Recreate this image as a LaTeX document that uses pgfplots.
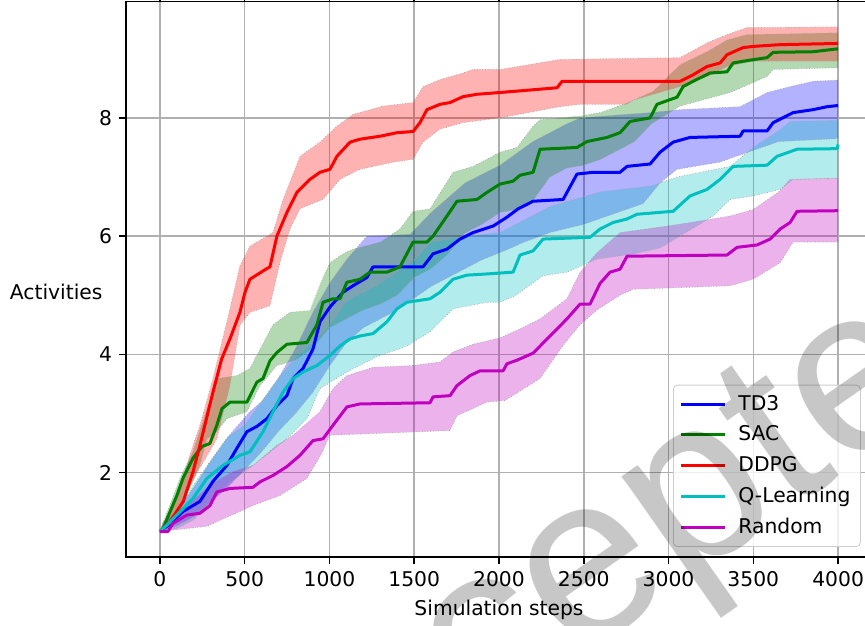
\documentclass[border=0pt]{standalone}
\usepackage{fontspec}
\setmainfont{DejaVu Sans}
\newfontfamily\wmfont{Liberation Sans}
\usepackage{pgfplots}
\pgfplotsset{compat=1.18}
\usepgfplotslibrary{fillbetween}
\definecolor{mb}{rgb}{0,0,1}
\definecolor{mg}{rgb}{0,0.5,0}
\definecolor{mr}{rgb}{1,0,0}
\definecolor{mc}{rgb}{0,0.75,0.75}
\definecolor{mm}{rgb}{0.75,0,0.75}
\definecolor{gridgray}{rgb}{0.69,0.69,0.69}
\pgfplotsset{
  bandedge/.style={draw=black!35, densely dotted, line width=0.35pt, forget plot},
  mainline/.style={line width=1.5pt, line join=round},
}
\begin{document}
\begin{tikzpicture}
\begin{axis}[
  scale only axis, width=373pt, height=277.75pt,
  xmin=-200, xmax=4200, ymin=0.57, ymax=9.97,
  xtick={0,500,...,4000}, ytick={2,4,6,8},
  grid=major, grid style={gridgray, line width=0.75pt},
  tick align=outside, major tick length=3.5pt,
  tick style={black, line width=0.75pt},
  axis line style={line width=0.75pt},
  /pgf/number format/assume math mode=true,
  /pgf/number format/1000 sep={},
  tick label style={font=\fontsize{10.15}{12}\selectfont},
  label style={font=\fontsize{10.15}{12}\selectfont},
  xlabel={Simulation steps},
  xlabel style={yshift=0pt},
  ylabel={Activities},
  ylabel style={rotate=-90, anchor=east, inner sep=0pt, at={(axis description cs:-0.031,0.477)}},
  legend cell align=left,
  legend style={at={(axis description cs:0.985,0.018)}, anchor=south east,
    draw=black!20, rounded corners=2pt, fill=white, fill opacity=0.8, text opacity=1,
    font=\fontsize{10.15}{12}\selectfont, row sep=2.3pt, inner xsep=3pt, inner ysep=3pt},
  legend image code/.code={\draw[#1, line width=1.5pt] (0pt,0pt) -- (22pt,0pt); \path (26pt,0pt);},
]
\coordinate (SW) at (rel axis cs:0,0);

% ---------------- bands ----------------
% TD3
\addplot[bandedge, name path=tdU] coordinates {(0,1.0) (100,1.35) (200,1.75) (300,2.2) (400,2.6) (531,3.03) (600,3.2) (700,3.6) (800,4.1) (900,4.7) (1000,5.2) (1100,5.6) (1221,6.0) (1475,6.03) (1600,6.4) (1800,6.9) (2006,7.2) (2200,7.6) (2400,7.9) (2478,8.0) (2700,8.05) (2891,8.09) (3068,8.14) (3422,8.19) (3581,8.43) (3717,8.53) (3853,8.62) (4000,8.64)};
\addplot[bandedge, name path=tdL] coordinates {(0,1.0) (100,1.1) (200,1.25) (300,1.5) (400,1.75) (500,2.05) (600,2.35) (700,2.7) (800,3.0) (900,3.35) (1000,3.8) (1100,4.2) (1200,4.45) (1300,4.6) (1400,4.75) (1500,4.95) (1600,5.15) (1700,5.3) (1800,5.45) (1900,5.6) (2006,5.72) (2150,5.9) (2300,6.06) (2500,6.2) (2700,6.4) (2850,6.55) (2950,6.9) (3050,7.13) (3300,7.25) (3500,7.45) (3650,7.6) (4000,7.65)};
\addplot[fill=mb, fill opacity=0.3, draw=none, forget plot] fill between[of=tdU and tdL];
% SAC
\addplot[bandedge, name path=sacU] coordinates {(0,1.0) (118,1.9) (195,2.35) (336,3.59) (454,3.64) (531,3.76) (667,4.5) (767,4.71) (885,4.74) (962,5.3) (1003,5.55) (1080,5.7) (1139,5.78) (1300,5.9) (1416,6.12) (1493,6.42) (1593,6.46) (1729,7.08) (1847,7.18) (1929,7.3) (2006,7.42) (2106,7.5) (2201,7.86) (2242,7.97) (2478,8.03) (2596,8.09) (2755,8.25) (2909,8.45) (3068,8.9) (3227,9.12) (3345,9.32) (3463,9.41) (4000,9.44)};
\addplot[bandedge, name path=sacL] coordinates {(0,1.0) (100,1.25) (236,2.12) (277,2.57) (336,2.69) (395,2.91) (513,3.03) (590,3.47) (690,3.81) (800,3.9) (900,4.1) (1000,4.45) (1100,4.6) (1200,4.75) (1300,4.85) (1400,5.0) (1500,5.3) (1600,5.45) (1700,5.7) (1800,6.05) (1900,6.2) (2006,6.4) (2100,6.45) (2200,6.6) (2300,7.0) (2400,7.15) (2500,7.2) (2600,7.3) (2700,7.45) (2800,7.6) (2900,7.9) (3068,8.2) (3363,8.43) (3581,8.7) (3617,8.82) (4000,8.85)};
\addplot[fill=mg, fill opacity=0.3, draw=none, forget plot] fill between[of=sacU and sacL];
% DDPG
\addplot[bandedge, name path=ddU] coordinates {(0,1.0) (100,1.6) (200,2.5) (236,2.8) (313,3.59) (413,4.77) (472,5.5) (531,5.83) (631,6.0) (667,6.06) (726,6.62) (826,7.35) (944,7.59) (1044,7.86) (1139,8.06) (1316,8.2) (1493,8.26) (1552,8.53) (1652,8.65) (1788,8.76) (1847,8.82) (2006,8.82) (2360,8.99) (3068,9.02) (3227,9.27) (3345,9.41) (3463,9.53) (4000,9.54)};
\addplot[bandedge, name path=ddL] coordinates {(0,1.0) (100,1.3) (200,1.9) (336,2.57) (413,3.47) (472,4.49) (531,4.71) (649,4.82) (708,5.55) (767,6.12) (826,6.46) (962,6.62) (1062,6.96) (1180,7.13) (1375,7.25) (1493,7.3) (1552,7.59) (1652,7.81) (1788,7.92) (2006,8.0) (2360,8.19) (2478,8.23) (2755,8.23) (2791,8.3) (3068,8.53) (3227,8.7) (3345,8.87) (3499,8.96) (4000,8.96)};
\addplot[fill=mr, fill opacity=0.3, draw=none, forget plot] fill between[of=ddU and ddL];
% Q-Learning
\addplot[bandedge, name path=qU] coordinates {(0,1.0) (100,1.3) (200,1.8) (300,2.2) (400,2.6) (500,2.8) (600,3.2) (700,3.6) (800,3.95) (900,4.2) (1000,4.5) (1100,4.9) (1300,5.2) (1500,5.6) (1600,5.9) (1800,6.0) (2006,6.06) (2300,6.5) (2600,6.75) (2900,6.85) (3050,7.0) (3363,7.18) (3500,7.5) (3658,7.8) (3717,7.94) (4000,7.96)};
\addplot[bandedge, name path=qL] coordinates {(0,1.0) (100,1.05) (200,1.2) (300,1.5) (400,1.8) (549,2.12) (749,2.57) (867,2.91) (944,3.42) (1103,3.7) (1280,3.96) (1457,4.14) (1593,4.38) (1729,4.77) (1929,4.88) (2006,4.88) (2100,5.0) (2260,5.33) (2401,5.39) (2578,5.61) (2800,5.7) (2950,5.8) (3068,6.0) (3263,6.34) (3363,6.62) (3499,6.68) (3658,6.79) (3735,6.96) (4000,6.98)};
\addplot[fill=mc, fill opacity=0.3, draw=none, forget plot] fill between[of=qU and qL];
% Random
\addplot[bandedge, name path=rU] coordinates {(0,1.0) (18,1.17) (159,1.44) (300,1.8) (431,2.02) (549,2.12) (690,2.46) (785,2.63) (944,3.03) (1021,3.42) (1103,3.64) (1257,3.78) (1493,3.81) (1652,3.87) (1729,4.04) (1847,4.17) (2006,4.28) (2124,4.43) (2242,4.6) (2401,4.94) (2478,5.39) (2578,5.72) (2714,6.06) (2991,6.17) (3127,6.23) (3363,6.34) (3500,6.45) (3650,6.75) (3717,6.96) (4000,6.98)};
\addplot[bandedge, name path=rL] coordinates {(0,1.0) (277,1.09) (549,1.44) (708,1.61) (867,1.9) (950,2.3) (1003,2.63) (1711,2.71) (1752,2.96) (1929,3.19) (2037,3.22) (2242,3.59) (2378,4.15) (2478,4.5) (2578,4.75) (2714,5.0) (2791,5.1) (3363,5.16) (3499,5.27) (3658,5.55) (3735,5.9) (4000,5.9)};
\addplot[fill=mm, fill opacity=0.3, draw=none, forget plot] fill between[of=rU and rL];

% ---------------- mean lines ----------------
\addplot[mainline, mb] coordinates {(0,1.0) (41,1.09) (136,1.34) (236,1.51) (313,1.85) (395,2.12) (454,2.41) (513,2.69) (572,2.78) (631,2.91) (690,3.13) (749,3.3) (785,3.59) (844,3.76) (903,4.09) (944,4.55) (1003,4.8) (1080,5.05) (1139,5.16) (1221,5.3) (1257,5.48) (1552,5.48) (1611,5.7) (1693,5.78) (1770,5.95) (1847,6.06) (1965,6.17) (2047,6.32) (2112,6.46) (2201,6.59) (2378,6.62) (2460,7.05) (2555,7.08) (2714,7.08) (2755,7.18) (2891,7.22) (2950,7.42) (3027,7.59) (3127,7.67) (3422,7.69) (3440,7.78) (3581,7.78) (3617,7.92) (3735,8.09) (3853,8.14) (3935,8.19) (4000,8.21)};
\addlegendentry{TD3}
\addplot[mainline, mg] coordinates {(0,1.0) (18,1.05) (100,1.61) (136,1.9) (195,2.24) (248,2.44) (295,2.49) (336,2.8) (366,3.08) (413,3.19) (513,3.19) (572,3.53) (608,3.59) (649,3.89) (690,4.03) (749,4.17) (867,4.2) (926,4.5) (962,4.88) (1021,4.94) (1062,4.94) (1103,5.22) (1180,5.27) (1239,5.39) (1339,5.39) (1416,5.48) (1493,5.9) (1575,5.9) (1611,6.0) (1693,6.34) (1752,6.59) (1870,6.62) (1929,6.74) (2006,6.88) (2083,6.93) (2124,7.03) (2201,7.08) (2242,7.47) (2460,7.5) (2519,7.6) (2637,7.67) (2714,7.75) (2773,7.94) (2891,8.0) (2932,8.23) (3009,8.31) (3050,8.35) (3086,8.53) (3145,8.62) (3245,8.76) (3345,8.78) (3381,8.93) (3463,8.97) (3581,9.02) (3617,9.11) (3853,9.12) (4000,9.17)};
\addlegendentry{SAC}
\addplot[mainline, mr] coordinates {(0,1.0) (59,1.17) (138,1.51) (196,2.02) (236,2.46) (265,2.8) (313,3.36) (364,3.92) (413,4.26) (472,4.71) (502,5.05) (531,5.27) (608,5.41) (649,5.48) (690,6.0) (749,6.4) (808,6.74) (885,6.96) (944,7.08) (1003,7.13) (1044,7.35) (1121,7.59) (1180,7.64) (1298,7.69) (1398,7.75) (1493,7.77) (1534,7.92) (1575,8.14) (1652,8.23) (1711,8.26) (1788,8.36) (1870,8.4) (2006,8.43) (2342,8.51) (2372,8.62) (3068,8.62) (3145,8.73) (3227,8.87) (3304,8.93) (3345,9.07) (3440,9.19) (3499,9.21) (3658,9.24) (4000,9.26)};
\addlegendentry{DDPG}
\addplot[mainline, mc] coordinates {(0,1.0) (41,1.11) (195,1.56) (277,1.9) (372,2.12) (472,2.29) (531,2.35) (608,2.69) (667,3.03) (726,3.36) (785,3.59) (844,3.7) (926,3.81) (1003,3.98) (1062,4.14) (1121,4.26) (1180,4.31) (1257,4.35) (1339,4.55) (1398,4.77) (1457,4.88) (1593,4.94) (1652,5.05) (1729,5.27) (1811,5.34) (1929,5.36) (2083,5.39) (2124,5.68) (2201,5.75) (2260,5.95) (2537,5.98) (2596,6.12) (2673,6.23) (2755,6.29) (2814,6.37) (3027,6.42) (3127,6.68) (3227,6.79) (3304,6.96) (3381,7.18) (3581,7.2) (3640,7.35) (3758,7.47) (3994,7.48) (4000,7.55)};
\addlegendentry{Q-Learning}
\addplot[mainline, mm] coordinates {(0,1.0) (47,1.0) (77,1.14) (159,1.28) (236,1.31) (295,1.44) (336,1.67) (413,1.73) (549,1.75) (590,1.84) (667,1.95) (749,2.1) (826,2.29) (903,2.54) (962,2.57) (1021,2.8) (1103,3.11) (1180,3.16) (1593,3.18) (1611,3.28) (1711,3.3) (1752,3.47) (1829,3.64) (1888,3.72) (2024,3.72) (2047,3.84) (2106,3.9) (2201,4.02) (2301,4.31) (2401,4.6) (2478,4.85) (2537,4.85) (2596,5.2) (2655,5.39) (2714,5.44) (2755,5.66) (3345,5.68) (3404,5.81) (3522,5.85) (3599,5.95) (3658,6.12) (3717,6.23) (3758,6.42) (4000,6.43)};
\addlegendentry{Random}
\end{axis}
% watermark
\node[rotate=35, text=black, opacity=0.22, font=\wmfont\fontsize{117.5}{120}\selectfont, inner sep=0pt]
  at ([xshift=246.5pt, yshift=0.5pt]SW) {Accepted};
\pgfresetboundingbox
\path[use as bounding box] ([xshift=-63pt,yshift=-34pt]SW) rectangle ([xshift=369.5pt,yshift=278.5pt]SW);
\end{tikzpicture}
\end{document}
